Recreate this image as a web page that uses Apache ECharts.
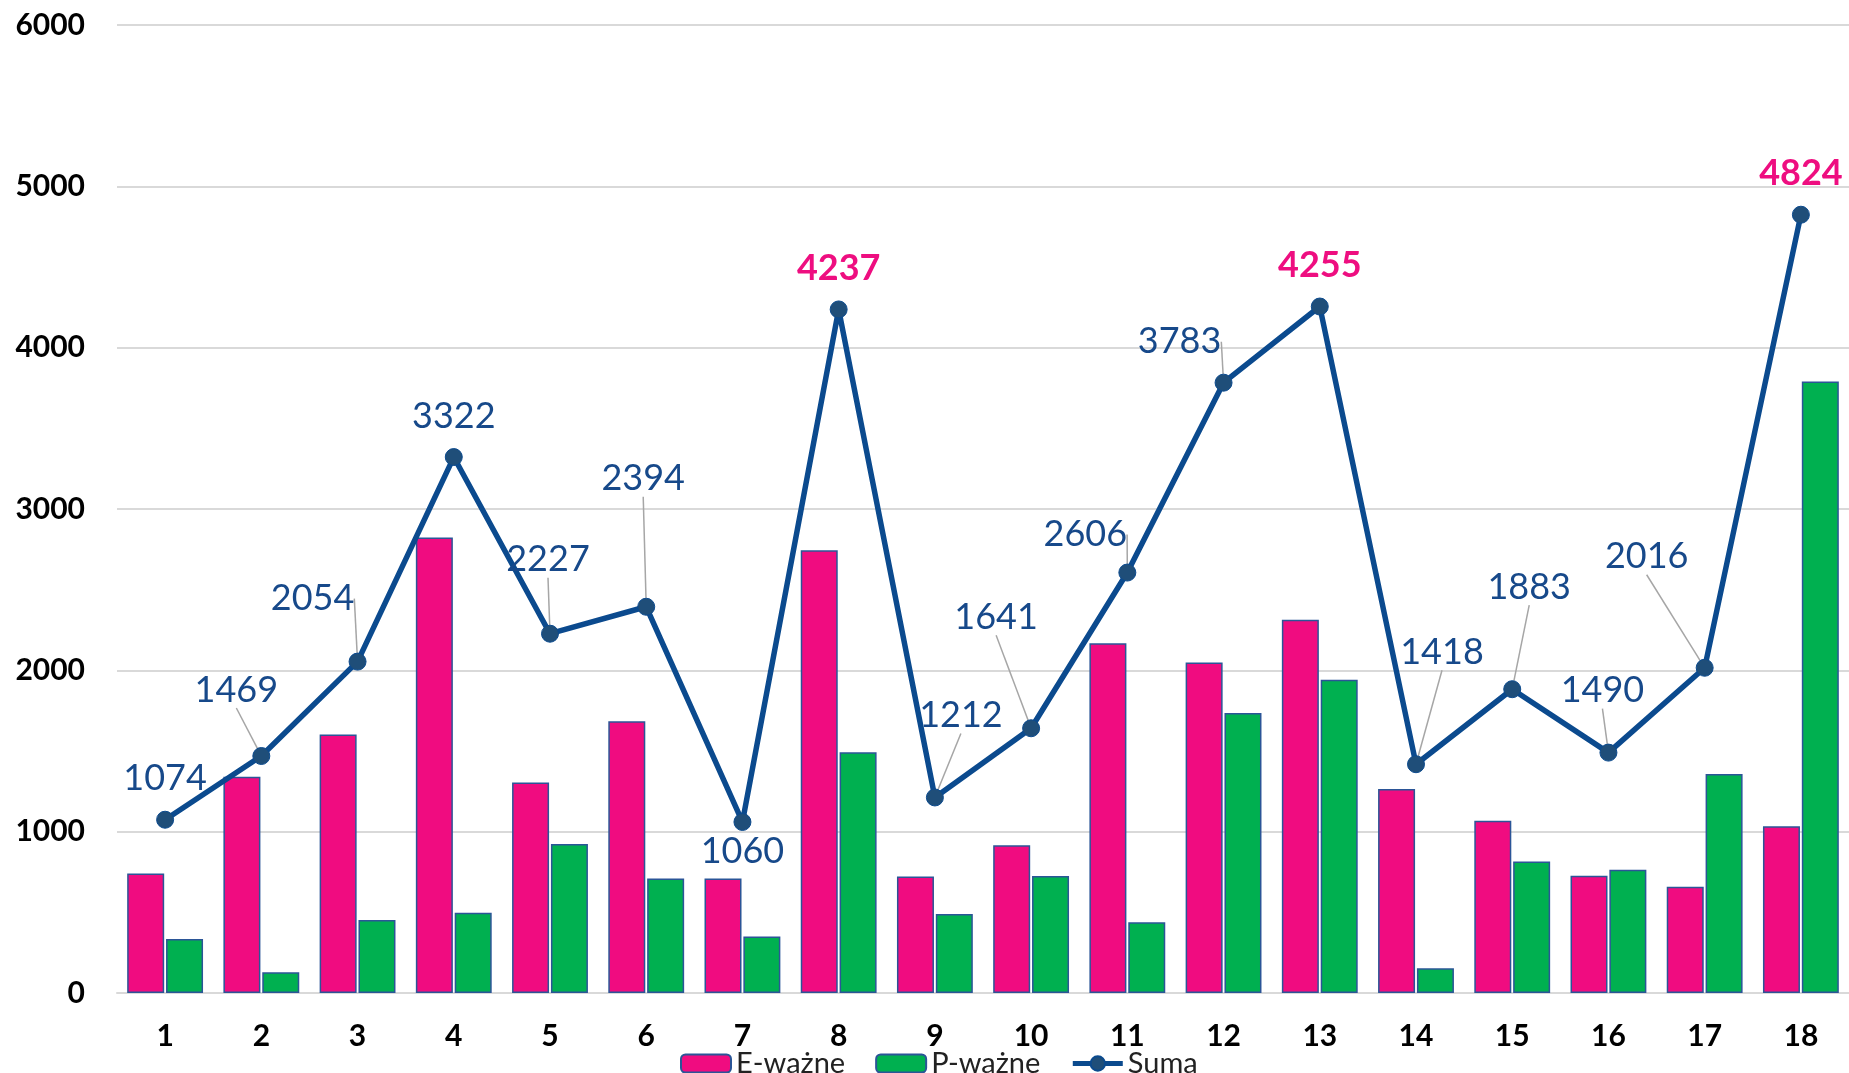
<!DOCTYPE html>
<html>
<head>
<meta charset="utf-8">
<script src="https://cdn.jsdelivr.net/npm/echarts@6/dist/echarts.min.js"></script>
<style>
  html, body { margin: 0; padding: 0; background: #fff; }
  #chart { width: 1849px; height: 1073px; }
</style>
</head>
<body>
<div id="chart"></div>
<script>
// dane
const categories = ['1', '2', '3', '4', '5', '6', '7', '8', '9', '10', '11', '12', '13', '14', '15', '16', '17', '18'];
const eValues = [740, 1341, 1602, 2824, 1304, 1684, 710, 2745, 722, 916, 2168, 2048, 2313, 1265, 1068, 726, 658, 1034];
const pValues = [334, 128, 452, 498, 923, 710, 350, 1492, 490, 725, 438, 1735, 1942, 153, 815, 764, 1358, 3790];
const sumValues = [1074, 1469, 2054, 3322, 2227, 2394, 1060, 4237, 1212, 1641, 2606, 3783, 4255, 1418, 1883, 1490, 2016, 4824];
const yTicks = [0, 1000, 2000, 3000, 4000, 5000, 6000];

// przesunięcia etykiet (dx, dy od punktu) i czy rysować linię odniesienia
const labelOffsets = [[0, -41], [-25, -66], [-45, -63], [0, -41], [-2, -74], [-3, -128], [0, 29], [0, -41], [26, -82],
  [-35, -111], [-42, -38], [-44, -41], [0, -41], [26, -112], [17, -102], [-6, -62], [-58, -111], [0, -41]];
const leaders = [false, true, true, false, true, true, false, false, true, true, true, true, false, true, true, true, true, false];

const blue = '#17498A';
const pink = '#EE0E80';

const sumData = sumValues.map((v, i) => {
  const big = v > 4000;
  return {
    value: v,
    label: {
      color: big ? pink : blue,
      fontWeight: big ? 'bold' : 'normal'
    },
    labelLine: { show: leaders[i] }
  };
});

const chart = echarts.init(document.getElementById('chart'));
chart.setOption({
  animation: false,
  textStyle: { fontFamily: 'Lato' },
  grid: { left: 117, right: 0, top: 25, bottom: 80 },
  legend: {
    left: 675,
    top: 1044,
    itemWidth: 50,
    itemHeight: 18,
    itemGap: 30,
    textStyle: { fontSize: 29, color: '#222', fontFamily: 'Lato' },
    data: [
      'E-ważne',
      'P-ważne',
      { name: 'Suma', lineStyle: { width: 5 } }
    ]
  },
  xAxis: {
    type: 'category',
    data: categories,
    axisTick: { show: false },
    axisLine: { lineStyle: { color: '#d9d9d9', width: 2 } },
    axisLabel: { fontSize: 30, fontWeight: 'bold', color: '#000', margin: 28, fontFamily: 'Lato' }
  },
  yAxis: {
    type: 'value',
    min: yTicks[0],
    max: yTicks[yTicks.length - 1],
    interval: 1000,
    axisLabel: {
      fontSize: 30, fontWeight: 'bold', color: '#000', margin: 32, fontFamily: 'Lato',
      formatter: v => String(v)
    },
    splitLine: { lineStyle: { color: '#d9d9d9', width: 2 } }
  },
  series: [
    {
      name: 'E-ważne',
      type: 'bar',
      data: eValues,
      barWidth: 37,
      barGap: '5%',
      itemStyle: { color: '#F00C80', borderColor: '#2B5597', borderWidth: 1.5 }
    },
    {
      name: 'P-ważne',
      type: 'bar',
      data: pValues,
      barWidth: 37,
      itemStyle: { color: '#00B050', borderColor: '#2B5597', borderWidth: 1.5 }
    },
    {
      name: 'Suma',
      type: 'line',
      data: sumData,
      z: 5,
      symbol: 'circle',
      symbolSize: 17,
      lineStyle: { color: '#0B4A8E', width: 5.5 },
      itemStyle: { color: '#1F4E79', borderColor: '#0B4A8E', borderWidth: 1 },
      label: {
        show: true,
        position: 'inside',
        fontSize: 36,
        fontFamily: 'Lato'
      },
      labelLine: {
        show: true,
        lineStyle: { color: '#a6a6a6', width: 1.5 }
      },
      labelLayout: function (params) {
        const o = labelOffsets[params.dataIndex];
        return { dx: o[0], dy: o[1] };
      }
    }
  ]
});
</script>
</body>
</html>
